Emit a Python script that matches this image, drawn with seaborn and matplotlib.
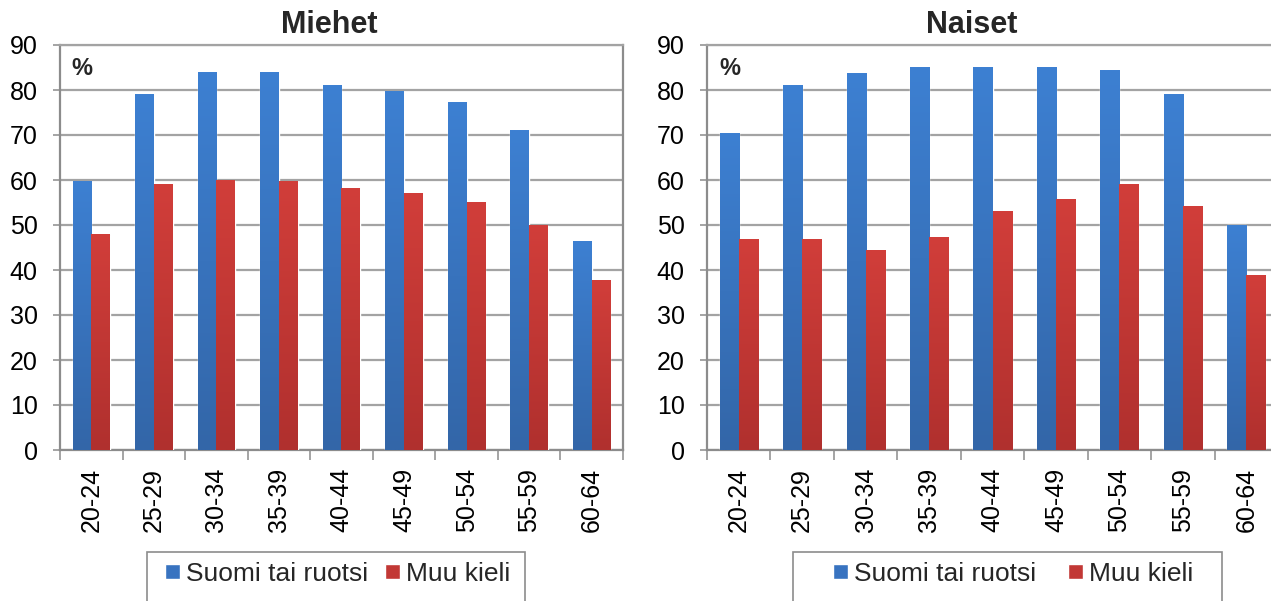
import numpy as np
import pandas as pd
import matplotlib
matplotlib.use("Agg")
import matplotlib.pyplot as plt
from matplotlib.patches import Rectangle
from matplotlib.colors import LinearSegmentedColormap
import seaborn as sns

# ---- data ----
ika = ["20-24", "25-29", "30-34", "35-39", "40-44", "45-49", "50-54", "55-59", "60-64"]
kielet = ["Suomi tai ruotsi", "Muu kieli"]
miehet_suomi = [59.6, 78.9, 83.8, 84.0, 81.1, 79.6, 77.3, 71.1, 46.4]
miehet_muu = [47.8, 58.9, 59.8, 59.6, 58.2, 57.1, 54.9, 49.8, 37.6]
naiset_suomi = [70.4, 80.9, 83.6, 84.9, 85.1, 84.9, 84.4, 79.1, 50.0]
naiset_muu = [46.7, 46.7, 44.4, 47.3, 53.1, 55.6, 58.9, 54.2, 38.7]
y_ticks = [0, 10, 20, 30, 40, 50, 60, 70, 80, 90]
otsikot = ["Miehet", "Naiset"]

# ---- style ----
sns.set_style("white")
plt.rcParams["font.family"] = ["Liberation Sans", "DejaVu Sans"]

W, H = 1271, 601
blue_top, blue_bot = "#3D80D2", "#3366A8"
red_top, red_bot = "#D13E3A", "#B0302E"
palette = ["#3873C0", "#C23835"]
grid_c = "#A3A3A3"
spine_c = "#8C8C8C"

fig = plt.figure(figsize=(W / 100, H / 100), dpi=100)

def frac_x(px):
    return px / W

def frac_y(px):
    return 1 - px / H

layouts = [
    dict(ax=(60, 45, 623, 450), title_x=329, leg_box=(147, 552, 525, 606), leg_txt=(165, 510), right_spine=True),
    dict(ax=(707, 45, 1278, 450), title_x=972, leg_box=(793, 552, 1222, 606), leg_txt=(833, 1193), right_spine=False),
]
datasets = [(miehet_suomi, miehet_muu), (naiset_suomi, naiset_muu)]

cmaps = [LinearSegmentedColormap.from_list("b", [blue_bot, blue_top]),
         LinearSegmentedColormap.from_list("r", [red_bot, red_top])]

for lay, (suomi, muu), otsikko in zip(layouts, datasets, otsikot):
    x0, y0, x1, y1 = lay["ax"]
    ax = fig.add_axes([frac_x(x0), frac_y(y1), (x1 - x0) / W, (y1 - y0) / H])
    df = pd.DataFrame({
        "ikä": ika * 2,
        "kieli": [kielet[0]] * len(ika) + [kielet[1]] * len(ika),
        "osuus": list(suomi) + list(muu),
    })
    sns.barplot(data=df, x="ikä", y="osuus", hue="kieli", order=ika, hue_order=kielet,
                palette=palette, saturation=1, width=0.6, gap=0, ax=ax, errorbar=None,
                zorder=3)
    handles, labels = ax.get_legend_handles_labels()
    if ax.get_legend() is not None:
        ax.get_legend().remove()

    # gradient fill on bars
    for cont, cm in zip(ax.containers, cmaps):
        for bar in cont:
            bx, by = bar.get_x(), bar.get_y()
            bw, bh = bar.get_width(), bar.get_height()
            grad = np.linspace(1, 0, 256).reshape(-1, 1)
            ax.imshow(grad, extent=[bx, bx + bw, by, by + bh], origin="upper",
                      aspect="auto", cmap=cm, zorder=3.5, interpolation="bilinear")

    ax.set_xlim(-0.5, len(ika) - 0.5)
    ax.set_ylim(0, 90)
    ax.set_aspect("auto")
    ax.set_axisbelow(True)
    ax.set_xlabel("")
    ax.set_ylabel("")

    ax.set_yticks(y_ticks)
    ax.set_yticklabels([str(v) for v in y_ticks])
    ax.yaxis.grid(True, color=grid_c, linewidth=1.6)
    ax.xaxis.grid(False)
    ax.tick_params(axis="y", which="major", left=True, length=5, width=1.1, color=spine_c,
                   pad=11, labelsize=18, labelcolor="black")

    ax.set_xticks(range(len(ika)))
    ax.set_xticklabels(ika, rotation=90, ha="center", va="top")
    ax.set_xticks(np.arange(-0.5, len(ika), 1), minor=True)
    ax.tick_params(axis="x", which="major", length=0, pad=13, labelsize=18, labelcolor="black")
    ax.tick_params(axis="x", which="minor", bottom=True, length=7, width=1.1, color=spine_c)

    for side in ["left", "bottom"]:
        ax.spines[side].set_color(spine_c)
        ax.spines[side].set_linewidth(1.6)
    ax.spines["top"].set_color(grid_c)
    ax.spines["top"].set_linewidth(1.6)
    ax.spines["right"].set_visible(lay["right_spine"])
    ax.spines["right"].set_color(spine_c)
    ax.spines["right"].set_linewidth(1.6)

    ax.text(0.021, 0.926, "%", transform=ax.transAxes, fontsize=17, fontweight="bold",
            ha="left", va="baseline")

    fig.text(frac_x(lay["title_x"]), frac_y(33), otsikko, fontsize=22, fontweight="bold",
             ha="center", va="baseline")

    lx0, ly0, lx1, ly1 = lay["leg_box"]
    fig.add_artist(Rectangle((frac_x(lx0), frac_y(ly1)), (lx1 - lx0) / W, (ly1 - ly0) / H,
                             transform=fig.transFigure, fill=False, edgecolor=spine_c,
                             linewidth=1.2))
    tx0, tx1 = lay["leg_txt"]
    fig.legend(handles, labels, loc="upper left",
               bbox_to_anchor=(frac_x(tx0), 0, (tx1 - tx0) / W, frac_y(562)),
               mode="expand", ncol=2, frameon=False, borderpad=0, borderaxespad=0,
               handlelength=0.58, handleheight=0.5, handletextpad=0.2, fontsize=19)

fig.savefig("out.png", dpi=100)
